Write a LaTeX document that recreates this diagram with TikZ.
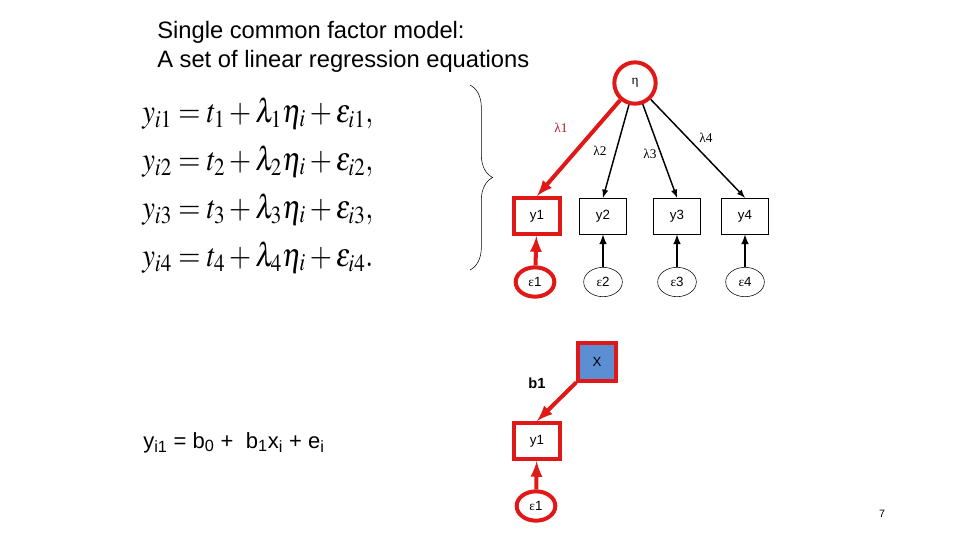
\documentclass[tikz,border=0pt]{standalone}
\usepackage{mathptmx}
\usepackage[no-math]{fontspec}
\setmainfont{Liberation Sans}
\newfontfamily\grk{Liberation Serif}
\usetikzlibrary{shapes.geometric,decorations.pathreplacing}
\definecolor{myred}{RGB}{224,24,24}
\definecolor{lamred}{RGB}{190,20,30}
\definecolor{xblue}{RGB}{92,142,212}

\begin{document}
\begin{tikzpicture}[x=0.75pt,y=-0.75pt,
	obs/.style={draw,rectangle,minimum width=35pt,minimum height=27pt,inner sep=0pt,font=\fontsize{10}{12}\selectfont},
	err/.style={draw,ellipse,minimum width=29pt,minimum height=22pt,inner sep=0pt,font=\fontsize{10}{12}\selectfont},
	hilite/.style={draw=myred,line width=3pt},
	redarrow/.style={-latex,draw=myred,line width=3pt},
	patharrow/.style={-latex,line width=1.1pt},
	errarrow/.style={-latex,line width=1.5pt},
	eqn/.style={anchor=base west,inner sep=0pt,font=\fontsize{23}{27}\selectfont},
	txt/.style={anchor=base west,inner sep=0pt},
	lab/.style={font=\fontsize{10}{12}\selectfont}]
			%%%%% START %%%%%
			\useasboundingbox (0,0) rectangle (960,540);
			
			\node[txt,font=\fontsize{17.8}{21}\selectfont] (title1) at (157,38) {Single common factor model:};
			\node[txt,font=\fontsize{17.8}{21}\selectfont] (title2) at (157,67) {A set of linear regression equations};
			
			\node[eqn] (eq1) at (142,122) {\scalebox{0.93}[1.08]{$y_{i1} = t_1 + \lambda_1\eta_i + \varepsilon_{i1},$}};
			\node[eqn] (eq2) at (142,170) {\scalebox{0.93}[1.08]{$y_{i2} = t_2 + \lambda_2\eta_i + \varepsilon_{i2},$}};
			\node[eqn] (eq3) at (142,218) {\scalebox{0.93}[1.08]{$y_{i3} = t_3 + \lambda_3\eta_i + \varepsilon_{i3},$}};
			\node[eqn] (eq4) at (142,266) {\scalebox{0.93}[1.08]{$y_{i4} = t_4 + \lambda_4\eta_i + \varepsilon_{i4}.$}};
			
			\draw[decorate,decoration={brace,amplitude=17pt}] (470,85) -- (470,270);
			
			\node[circle,hilite,minimum size=31pt,inner sep=0pt,font=\fontsize{10}{12}\selectfont] (eta) at (635,83) {\grk η};
			
			\node[obs,hilite] (y1) at (537,216) {y1};
			\node[err,hilite] (e1) at (535,282) {{\grk ε}1};
			\foreach \i/\x in {2/603,3/677,4/745} {
				\node[obs] (y\i) at (\x,216) {y\i};
				\node[err] (e\i) at (\x,282) {{\grk ε}\i};
			}
			
			\node[lab,text=lamred] (l1) at (561,128) {\grk λ1};
			\node[lab] (l2) at (600,151) {\grk λ2};
			\node[lab] (l3) at (650,154) {\grk λ3};
			\node[lab] (l4) at (706,138) {\grk λ4};
			
			\draw[redarrow] (eta) -- (y1.north);
			\draw[redarrow] (e1) -- (y1);
			\foreach \i in {2,3,4} {
				\draw[patharrow] (eta) -- (y\i.north);
				\draw[errarrow] (e\i) -- (y\i);
			}
			
			\node[rectangle,hilite,fill=xblue,minimum size=28pt,inner sep=0pt,font=\fontsize{10}{12}\selectfont] (xb) at (597,362) {X};
			\node[font=\bfseries\fontsize{11}{13}\selectfont] (b1) at (537,383) {b1};
			\node[obs,hilite] (yb) at (537,441) {y1};
			\node[err,hilite] (eb) at (536,506) {{\grk ε}1};
			\draw[redarrow] (xb) -- (yb.north);
			\draw[redarrow] (eb) -- (yb);
			
			\node[txt,font=\fontsize{16.5}{20}\selectfont] (reg) at (143,448) {y\textsubscript{i1} = b\textsubscript{0} +~ b\textsubscript{1}x\textsubscript{i} + e\textsubscript{i}};
			
			\node[font=\fontsize{8}{10}\selectfont] (pg) at (882,514) {7};
			%%%%% END %%%%%
		\end{tikzpicture}
\end{document}
